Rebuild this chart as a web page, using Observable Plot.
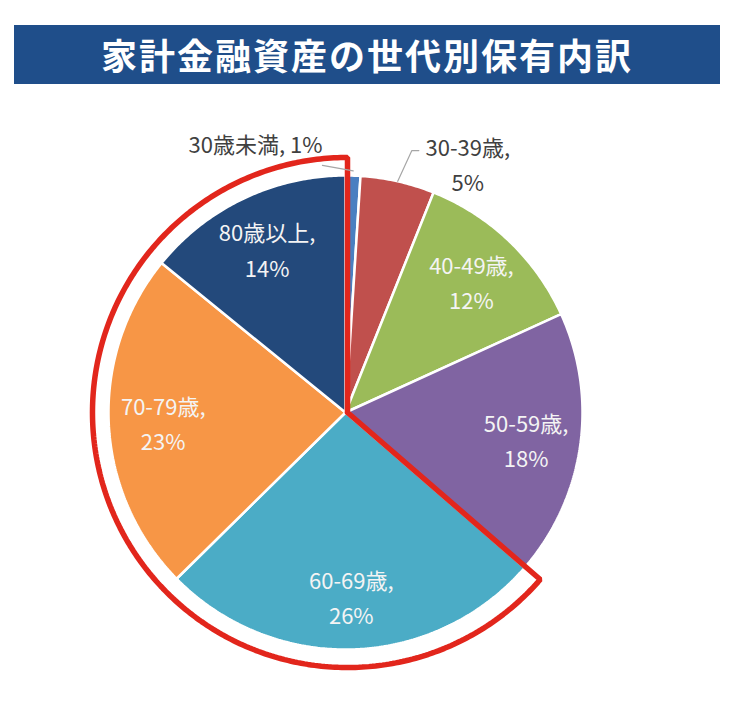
<!DOCTYPE html>
<html><head><meta charset="utf-8">
<script src="https://cdn.jsdelivr.net/npm/d3@7"></script>
<script src="https://cdn.jsdelivr.net/npm/@observablehq/plot@0.6"></script>
<style>
body{margin:0;background:#fff;font-family:"Noto Sans CJK JP","Noto Sans",sans-serif;}
#title{margin:25px 0 0 14px;width:706px;height:59px;background:#1f4e8a;color:#fff;font-weight:700;font-size:36px;line-height:59px;text-align:center;letter-spacing:2px;}
#chart svg{display:block;}
</style></head><body>
<div id="title">家計金融資産の世代別保有内訳</div>
<div id="chart"></div>
<script>
const categories = ["30歳未満","30-39歳","40-49歳","50-59歳","60-69歳","70-79歳","80歳以上"];
const shares = [1,5,12,18,26,23,14];
const colors = ["#4a7fc1","#c0504d","#9bbb59","#8064a2","#4bacc6","#f79646","#23497b"];
const insideIdx = [2,3,4,5,6];
const highlighted = ["60-69歳","70-79歳","80歳以上"];

const W = 744, H = 643, R = 237, cx = 345, cy = 328;
const arcs = d3.pie().sort(null).value(d => d)(shares);
const pt = (a, r) => ({x: Math.sin(a) * r, y: -Math.cos(a) * r});

// slice outlines
const slicePts = [];
arcs.forEach((a, i) => {
  const n = Math.max(4, Math.ceil((a.endAngle - a.startAngle) / 0.01));
  slicePts.push({cat: categories[i], ...pt(0, 0)});
  for (let k = 0; k <= n; k++) {
    const ang = a.startAngle + (a.endAngle - a.startAngle) * k / n;
    slicePts.push({cat: categories[i], ...pt(ang, 1)});
  }
  slicePts.push({cat: categories[i], ...pt(0, 0)});
});

// red highlight outline around 60+ slices
const hi = arcs.filter((a, i) => highlighted.includes(categories[i]));
const h0 = d3.min(hi, a => a.startAngle), h1 = d3.max(hi, a => a.endAngle);
const ro = 1.076;
const redPts = [pt(0, 0)];
for (let k = 0; k <= 300; k++) redPts.push(pt(h0 + (h1 - h0) * k / 300, ro));
redPts.push(pt(0, 0));

// labels
const mid = a => (a.startAngle + a.endAngle) / 2;
const inside = insideIdx.map(i => ({...pt(mid(arcs[i]), 0.77), text: `${categories[i]},\n${shares[i]}%`}));

const u = 1 / R;
const a1 = mid(arcs[1]);
const l1p1 = pt(a1, 1.0), l1p2 = pt(a1 + 0.026, 1.14);
const lead1 = [l1p1, l1p2, {x: l1p2.x + 7 * u, y: l1p2.y}];
const a0 = mid(arcs[0]);
const l0p1 = pt(a0, 1.02), l0p2 = pt(-0.093, 1.047);
const lead0 = [l0p1, l0p2];

const chart = Plot.plot({
  width: W, height: H, margin: 0,
  x: {domain: [-cx / R, (W - cx) / R], range: [0, W], axis: null},
  y: {domain: [-cy / R, (H - cy) / R], range: [0, H], axis: null},
  color: {domain: categories, range: colors},
  style: {fontFamily: '"Noto Sans CJK JP","Noto Sans",sans-serif'},
  marks: [
    Plot.line(slicePts, {x: "x", y: "y", z: "cat", fill: "cat", stroke: "white", strokeWidth: 2.5, strokeLinejoin: "miter", curve: "linear"}),
    Plot.line(redPts, {x: "x", y: "y", stroke: "#e2261c", strokeWidth: 5.5, strokeLinejoin: "miter", dx: 2, fill: "none"}),
    Plot.line(lead1, {x: "x", y: "y", stroke: "#a6a6a6", strokeWidth: 1.2}),
    Plot.line(lead0, {x: "x", y: "y", stroke: "#a6a6a6", strokeWidth: 1.2}),
    Plot.text(inside, {x: "x", y: "y", text: "text", fill: "#f4f4f4", fontSize: 22, lineHeight: 1.6, letterSpacing: 1}),
    Plot.text([{...l1p2, text: `${categories[1]},\n${shares[1]}%`}], {x: "x", y: "y", text: "text", fill: "#404040", fontSize: 22, lineHeight: 1.6, letterSpacing: 1, dx: 56, dy: 12}),
    Plot.text([{...l0p2, text: `${categories[0]}, ${shares[0]}%`}], {x: "x", y: "y", text: "text", fill: "#404040", fontSize: 22, letterSpacing: 1, textAnchor: "end", dy: -19})
  ]
});
document.getElementById("chart").appendChild(chart);
</script>
</body></html>
